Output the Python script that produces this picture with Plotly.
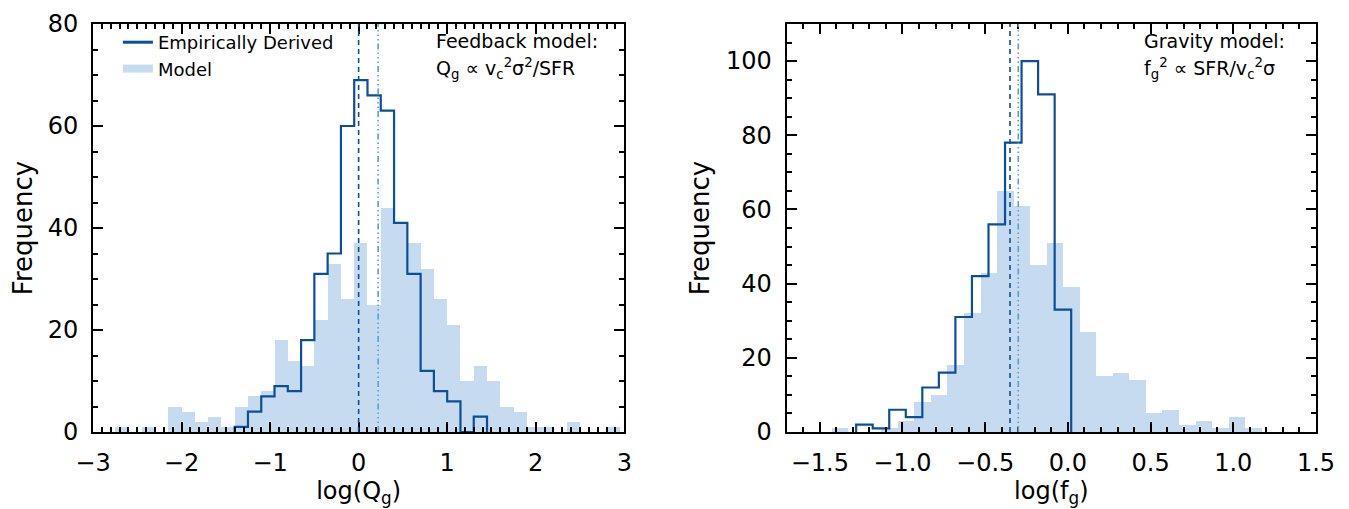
import plotly.graph_objects as go

# ---------------- data ----------------
# Left panel: log(Q_g)
q_model_start = -2.75
q_model_width = 0.15
q_model_counts = [1, 0, 1, 0, 5, 4, 2, 3, 1, 5, 7, 8, 18, 14, 13, 22, 33, 26, 37, 25,
                  44, 41, 37, 32, 26, 21, 10, 13, 10, 5, 4, 1, 1, 0, 2, 0, 0, 1]
q_emp_start = -1.4
q_emp_width = 0.15
q_emp_counts = [1, 4, 7, 9, 8, 18, 31, 35, 60, 69, 66, 63, 41, 31, 12, 8, 6, 0, 3]
q_emp_median = 0.0
q_model_median = 0.22

# Right panel: log(f_g)
f_model_start = -1.43
f_model_width = 0.1
f_model_counts = [1, 0, 0, 1, 3, 8, 10, 18, 32, 43, 65, 61, 45, 51, 39, 27, 15, 16, 14,
                  5, 6, 2, 3, 1, 4, 1]
f_emp_start = -1.28
f_emp_width = 0.1
f_emp_counts = [2, 1, 6, 4, 12, 16, 31, 42, 56, 78, 100, 91, 33]
f_emp_median = -0.35
f_model_median = -0.30

DARK = "#0b4f9c"
LIGHT = "#c6dbef"
MID = "#5b9fd5"
FONT = "DejaVu Sans"


def edges(start, width, n):
    return [start + i * width for i in range(n + 1)]


def centers(start, width, n):
    return [start + (i + 0.5) * width for i in range(n)]


def outline(start, width, counts):
    e = edges(start, width, len(counts))
    xs, ys = [e[0]], [0]
    for i, c in enumerate(counts):
        xs += [e[i], e[i + 1]]
        ys += [c, c]
    xs.append(e[-1])
    ys.append(0)
    return xs, ys


fig = go.Figure()

# Left panel
fig.add_trace(go.Bar(x=centers(q_model_start, q_model_width, len(q_model_counts)),
                     y=q_model_counts, width=q_model_width,
                     marker=dict(color=LIGHT, line=dict(width=0)),
                     showlegend=False, xaxis="x", yaxis="y"))
qx, qy = outline(q_emp_start, q_emp_width, q_emp_counts)
fig.add_trace(go.Scatter(x=qx, y=qy, mode="lines", line=dict(color=DARK, width=2.2),
                         showlegend=False, xaxis="x", yaxis="y"))

# Right panel
fig.add_trace(go.Bar(x=centers(f_model_start, f_model_width, len(f_model_counts)),
                     y=f_model_counts, width=f_model_width,
                     marker=dict(color=LIGHT, line=dict(width=0)),
                     showlegend=False, xaxis="x2", yaxis="y2"))
fx, fy = outline(f_emp_start, f_emp_width, f_emp_counts)
fig.add_trace(go.Scatter(x=fx, y=fy, mode="lines", line=dict(color=DARK, width=2.2),
                         showlegend=False, xaxis="x2", yaxis="y2"))

# Legend entries
fig.add_trace(go.Scatter(x=[None], y=[None], mode="lines", name="Empirically Derived",
                         line=dict(color=DARK, width=3), xaxis="x", yaxis="y"))
fig.add_trace(go.Scatter(x=[None], y=[None], mode="lines", name="Model",
                         line=dict(color=LIGHT, width=8), xaxis="x", yaxis="y"))

# Median lines
dashdot = "6px,3px,1.5px,3px,1.5px,3px,1.5px,3px"
for xv, col, dash, xr, yr, ytop in [
    (q_emp_median, DARK, "5px,4px", "x", "y", 80),
    (q_model_median, MID, dashdot, "x", "y", 80),
    (f_emp_median, DARK, "5px,4px", "x2", "y2", 110),
    (f_model_median, MID, dashdot, "x2", "y2", 110),
]:
    fig.add_shape(type="line", x0=xv, x1=xv, y0=0, y1=ytop, xref=xr, yref=yr,
                  line=dict(color=col, width=1.6, dash=dash), layer="above")

axis_common = dict(showline=True, linecolor="black", linewidth=2, mirror="ticks",
                   ticks="inside", ticklen=10, tickwidth=1.5, tickcolor="black",
                   showgrid=False, zeroline=False, ticklabeloverflow="allow",
                   tickfont=dict(family=FONT, size=24, color="black"))
minor_common = dict(ticks="inside", ticklen=5, tickwidth=1.5, tickcolor="black", showgrid=False)

# The page body adds an 8px offset; margins compensate for it.
fig.update_layout(
    width=1349, height=509,
    margin=dict(l=81, r=41, t=2, b=85),
    paper_bgcolor="white", plot_bgcolor="white",
    bargap=0,
    font=dict(family=FONT, color="black"),
    xaxis=dict(domain=[0, 0.4344], range=[-3, 3], dtick=1, tick0=0,
               minor=dict(dtick=0.1, tick0=0, **minor_common),
               ticklabelstandoff=8,
               title=dict(text="log(Q<sub>g</sub>)", font=dict(family=FONT, size=24), standoff=4),
               anchor="y", **axis_common),
    yaxis=dict(domain=[0, 1], range=[0, 80], dtick=20, tick0=0,
               minor=dict(dtick=5, tick0=0, **minor_common),
               ticklabelstandoff=8,
               title=dict(text="Frequency", font=dict(family=FONT, size=26), standoff=19),
               anchor="x", **axis_common),
    xaxis2=dict(domain=[0.5672, 1], range=[-1.7, 1.5], dtick=0.5, tick0=0, tickformat=".1f",
                minor=dict(dtick=0.1, tick0=0, **minor_common),
                ticklabelstandoff=8,
                title=dict(text="log(f<sub>g</sub>)", font=dict(family=FONT, size=24), standoff=4),
                anchor="y2", **axis_common),
    yaxis2=dict(domain=[0, 1], range=[0, 110], dtick=20, tick0=0,
                minor=dict(dtick=5, tick0=0, **minor_common),
                ticklabelstandoff=8,
                title=dict(text="Frequency", font=dict(family=FONT, size=26), standoff=9),
                anchor="x2", **axis_common),
    legend=dict(x=(114 - 89) / 1227, y=1.0, xanchor="left", yanchor="top",
                bgcolor="rgba(0,0,0,0)", font=dict(family=FONT, size=18),
                itemwidth=30, tracegroupgap=0),
)

ann_font = dict(family=FONT, size=19, color="black")
fig.add_annotation(text="Feedback model:", xref="x domain", yref="y domain",
                   x=(431 - 89) / 533, y=1 - 18 / 422, xanchor="left", yanchor="middle",
                   showarrow=False, font=ann_font)
fig.add_annotation(text="Q<sub>g</sub> ∝ v<sub>c</sub><sup>2</sup>σ<sup>2</sup>/SFR",
                   xref="x domain", yref="y domain",
                   x=(431 - 89) / 533, y=1 - 46 / 422, xanchor="left", yanchor="middle",
                   showarrow=False, font=ann_font)
fig.add_annotation(text="Gravity model:", xref="x2 domain", yref="y2 domain",
                   x=(1141 - 785) / 531, y=1 - 18 / 422, xanchor="left", yanchor="middle",
                   showarrow=False, font=ann_font)
fig.add_annotation(text="f<sub>g</sub><sup>2</sup> ∝ SFR/v<sub>c</sub><sup>2</sup>σ",
                   xref="x2 domain", yref="y2 domain",
                   x=(1141 - 785) / 531, y=1 - 46 / 422, xanchor="left", yanchor="middle",
                   showarrow=False, font=ann_font)

fig.write_html("out.html")
